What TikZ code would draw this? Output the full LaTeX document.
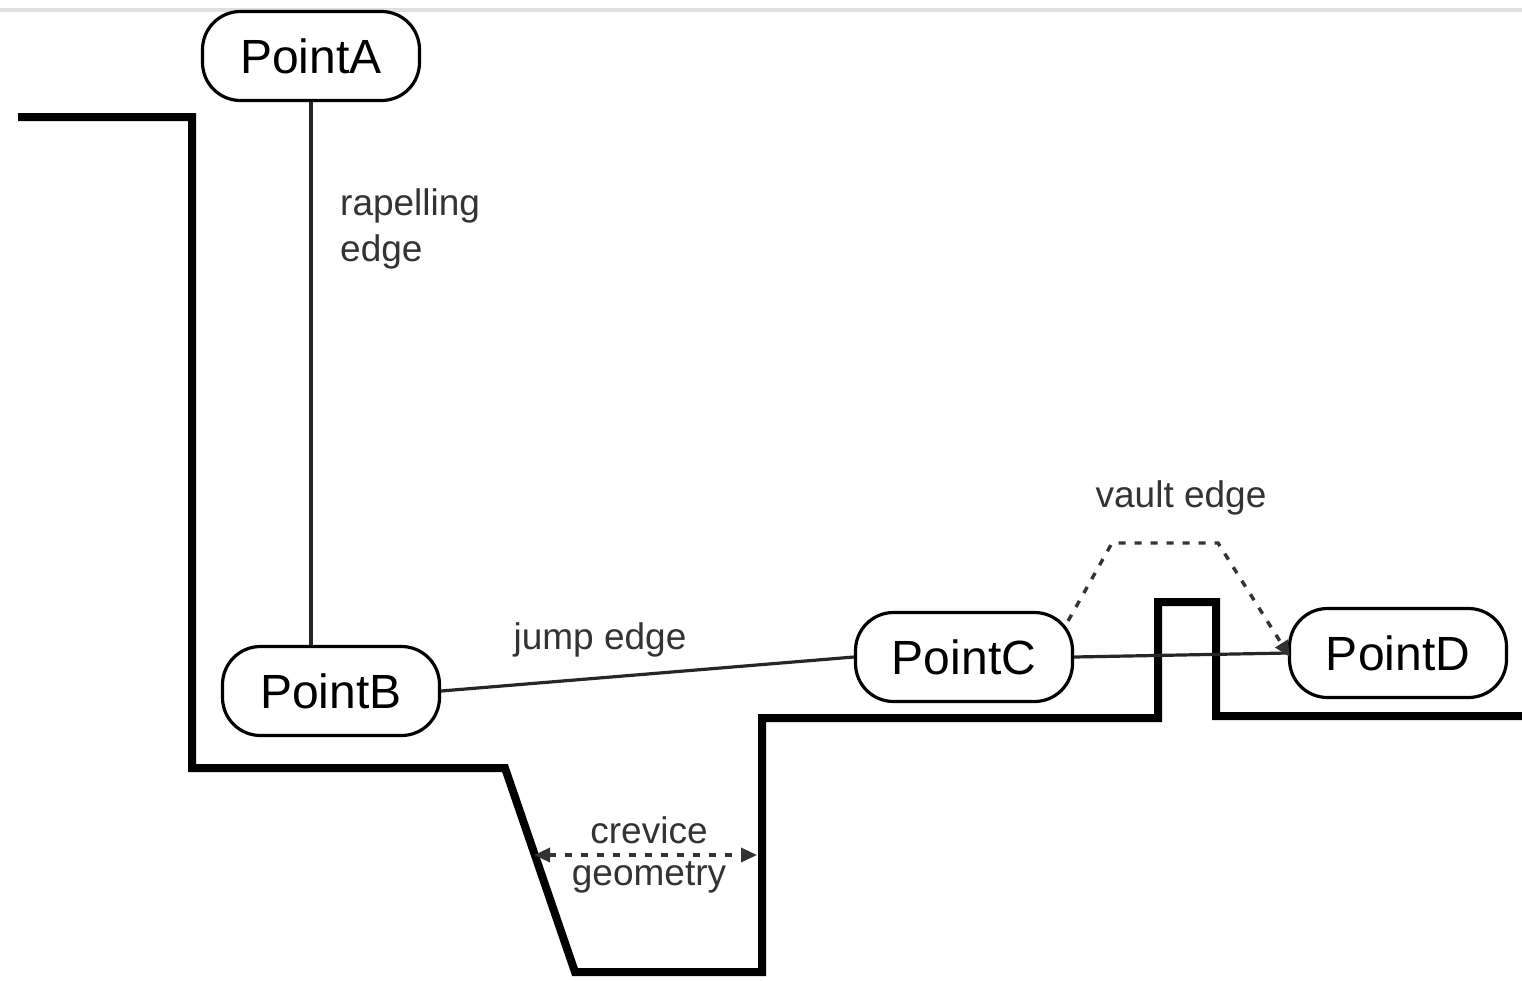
\documentclass[tikz,border=0pt]{standalone}
\usepackage{fontspec}
\setmainfont{Liberation Sans}
\usetikzlibrary{arrows.meta}
\begin{document}
\begin{tikzpicture}[x=1pt,y=-1pt,
  pt/.style={draw=black,line width=3.2pt,rounded corners=38pt,minimum width=217pt,minimum height=89pt,inner sep=0pt,font=\fontsize{48}{52}\selectfont},
  lbl/.style={text=black!80,font=\fontsize{37}{46}\selectfont,inner sep=0pt},
  terrain/.style={line width=8pt,line join=miter},
  edgeln/.style={line width=3.2pt,draw=black!85},
  dsh/.style={line width=3.4pt,dash pattern=on 7pt off 9pt,draw=black!80}]
\useasboundingbox (0,0) rectangle (1522,980);
\fill[white] (0,0) rectangle (1522,980);
\coordinate (tl) at (0,10);
\coordinate (tr) at (1522,10);
\draw[line width=4pt,black!12] (tl) -- (tr);
% terrain
\draw[terrain] (18,117) -- (192,117) -- (192,768) -- (505,768) -- (575,972) -- (762,972) -- (762,718) -- (1158,718) -- (1158,602) -- (1216,602) -- (1216,716) -- (1522,716);
% nodes
\node[pt] (A) at (311,56) {PointA};
\node[pt] (B) at (331,691) {PointB};
\node[pt] (C) at (964,657) {PointC};
\node[pt] (D) at (1398,653) {PointD};
% edges
\draw[edgeln] (A.south -| 311,0) -- (B.north -| 311,0);
\draw[edgeln] (B.east) -- (C.west);
\draw[edgeln] (C.east) -- (D.west);
\coordinate (v1) at (1112,543);
\coordinate (v2) at (1218,543);
\draw[dsh,-{Triangle[length=16pt,width=14pt]}] (C.north east) ++(-6,10) -- (v1) -- (v2) -- ([xshift=2pt,yshift=-4pt]D.west);
\coordinate (c1) at (534,855);
\coordinate (c2) at (757,855);
\draw[dsh,{Triangle[length=16pt,width=14pt]}-{Triangle[length=16pt,width=14pt]}] (c1) -- (c2);
% labels
\node[lbl,anchor=north west,align=left] (rl) at (340,188) {rapelling\\edge};
\node[lbl] (jl) at (600,640) {jump edge};
\node[lbl] (vl) at (1181,498) {vault edge};
\node[lbl] (cl1) at (649,830) {crevice};
\node[lbl] (cl2) at (649,877) {geometry};
\end{tikzpicture}
\end{document}
